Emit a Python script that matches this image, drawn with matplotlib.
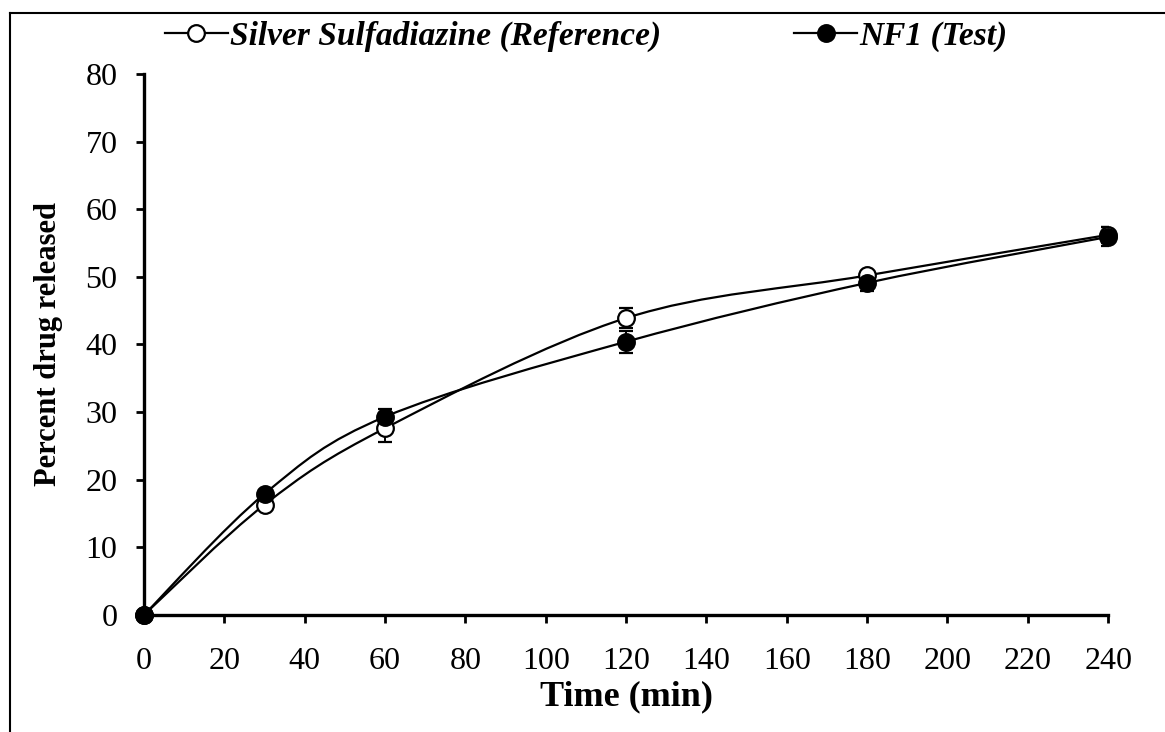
import matplotlib
matplotlib.use("Agg")
import matplotlib.pyplot as plt
from matplotlib.path import Path
from matplotlib.patches import PathPatch
from matplotlib.lines import Line2D
import numpy as np

plt.rcParams['font.family'] = ['Liberation Serif', 'DejaVu Serif']

# data
time_min = [0, 30, 60, 120, 180, 240]
ref_release = [0.0, 16.3, 27.6, 43.9, 50.2, 56.2]
ref_err = [0.0, 0.8, 2.0, 1.5, 0.6, 1.2]
test_release = [0.0, 17.9, 29.3, 40.4, 49.1, 55.9]
test_err = [0.0, 0.5, 1.2, 1.6, 1.2, 1.4]

x_ticks = list(range(0, 241, 20))
y_ticks = list(range(0, 81, 10))


def smooth_path(xs, ys):
    # Excel-like smoothed line: cubic bezier through the points
    pts = np.column_stack([xs, ys]).astype(float)
    verts = [tuple(pts[0])]
    codes = [Path.MOVETO]
    n = len(pts)
    for i in range(n - 1):
        p0 = pts[i - 1] if i > 0 else pts[i]
        p1 = pts[i]
        p2 = pts[i + 1]
        p3 = pts[i + 2] if i + 2 < n else pts[i + 1]
        c1 = p1 + (p2 - p0) / 6.0
        c2 = p2 - (p3 - p1) / 6.0
        verts += [tuple(c1), tuple(c2), tuple(p2)]
        codes += [Path.CURVE4] * 3
    return Path(verts, codes)


fig = plt.figure(figsize=(11.65, 7.32), dpi=100)
ax = fig.add_axes([0.1236, 0.160, 0.8276, 0.739])

for xs, ys, err, face in [(time_min, ref_release, ref_err, 'white'),
                          (time_min, test_release, test_err, 'black')]:
    ax.add_patch(PathPatch(smooth_path(xs, ys), facecolor='none',
                           edgecolor='black', lw=1.6, zorder=2))
    ax.errorbar(xs, ys, yerr=err, fmt='none', ecolor='black',
                elinewidth=1.4, capsize=5, capthick=1.6, zorder=3)
    ax.plot(xs, ys, 'o', ms=12, mfc=face, mec='black', mew=1.6,
            zorder=4, clip_on=False)

ax.set_xlim(0, 240)
ax.set_ylim(0, 80)
ax.set_xticks(x_ticks)
ax.set_yticks(y_ticks)
ax.tick_params(axis='both', labelsize=23, width=2, length=6,
               direction='out')
ax.tick_params(axis='x', pad=17)
ax.tick_params(axis='y', pad=13)
for s in ['top', 'right']:
    ax.spines[s].set_visible(False)
for s in ['left', 'bottom']:
    ax.spines[s].set_linewidth(2.4)

ax.set_xlabel('Time (min)', fontsize=26, fontweight='bold', labelpad=3)
ax.set_ylabel('Percent drug released', fontsize=22, fontweight='bold',
              labelpad=16)

handles = [
    Line2D([], [], color='black', lw=1.6, marker='o', ms=12,
           mfc='white', mec='black', mew=1.6),
    Line2D([], [], color='black', lw=1.6, marker='o', ms=12,
           mfc='black', mec='black', mew=1.6),
]
leg = fig.legend(handles, ['Silver Sulfadiazine (Reference)', 'NF1 (Test)'],
                 loc='center', bbox_to_anchor=(0.503, 0.95), ncol=2,
                 frameon=False, handlelength=1.9, handletextpad=0.05,
                 columnspacing=4.0,
                 prop={'size': 24, 'weight': 'bold', 'style': 'italic'})

# outer frame lines (left and top)
fig.add_artist(Line2D([10 / 1165, 10 / 1165], [0, 1 - 13 / 732],
                      transform=fig.transFigure, color='black', lw=1.5))
fig.add_artist(Line2D([10 / 1165, 1], [1 - 13 / 732, 1 - 13 / 732],
                      transform=fig.transFigure, color='black', lw=1.5))

fig.savefig('out.png', dpi=100)
